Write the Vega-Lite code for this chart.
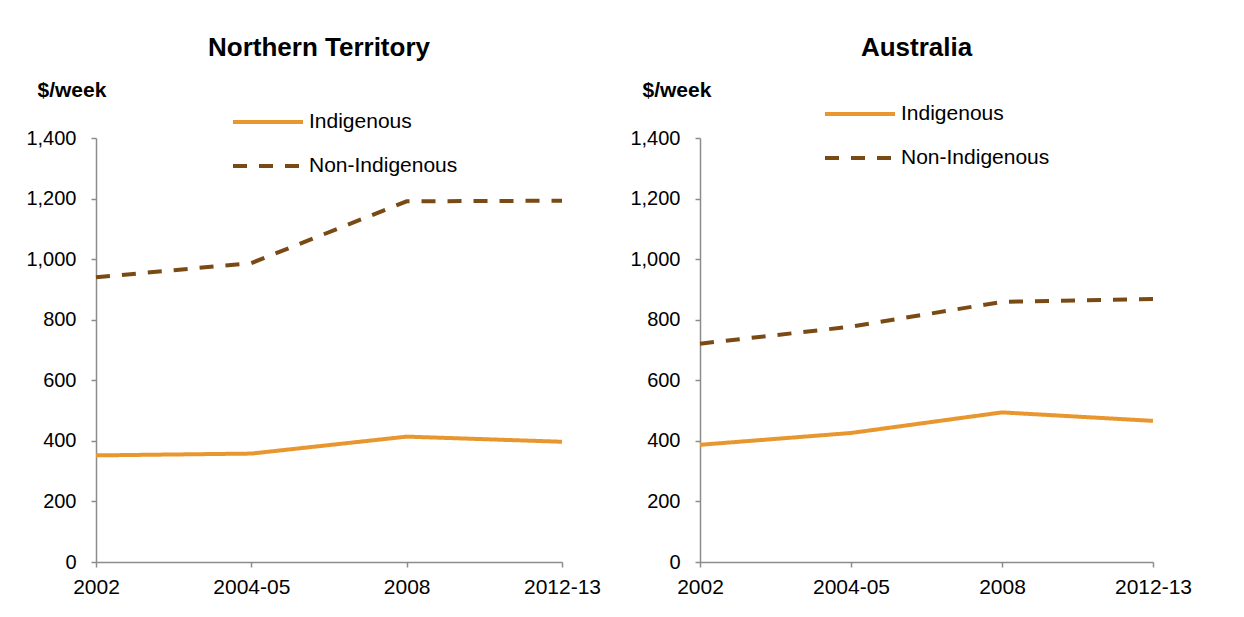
{
  "$schema": "https://vega.github.io/schema/vega-lite/v6.json",
  "padding": {"left": 25, "top": 35, "right": 5, "bottom": 5},
  "bounds": "flush",
  "spacing": 138,
  "background": "white",
  "datasets": {
    "income": [
      {"region": "Northern Territory", "group": "Indigenous", "period": "2002", "value": 352},
      {"region": "Northern Territory", "group": "Indigenous", "period": "2004-05", "value": 358},
      {"region": "Northern Territory", "group": "Indigenous", "period": "2008", "value": 414},
      {"region": "Northern Territory", "group": "Indigenous", "period": "2012-13", "value": 397},
      {"region": "Northern Territory", "group": "Non-Indigenous", "period": "2002", "value": 940},
      {"region": "Northern Territory", "group": "Non-Indigenous", "period": "2004-05", "value": 987},
      {"region": "Northern Territory", "group": "Non-Indigenous", "period": "2008", "value": 1191},
      {"region": "Northern Territory", "group": "Non-Indigenous", "period": "2012-13", "value": 1193},
      {"region": "Australia", "group": "Indigenous", "period": "2002", "value": 387},
      {"region": "Australia", "group": "Indigenous", "period": "2004-05", "value": 426},
      {"region": "Australia", "group": "Indigenous", "period": "2008", "value": 494},
      {"region": "Australia", "group": "Indigenous", "period": "2012-13", "value": 466},
      {"region": "Australia", "group": "Non-Indigenous", "period": "2002", "value": 721},
      {"region": "Australia", "group": "Non-Indigenous", "period": "2004-05", "value": 777},
      {"region": "Australia", "group": "Non-Indigenous", "period": "2008", "value": 859},
      {"region": "Australia", "group": "Non-Indigenous", "period": "2012-13", "value": 868}
    ]
  },
  "config": {
    "font": "Liberation Sans",
    "view": {"stroke": null},
    "axis": {
      "domainColor": "#8c8c8c",
      "tickColor": "#8c8c8c",
      "domainWidth": 1.5,
      "tickWidth": 1.5,
      "tickSize": 5,
      "grid": false,
      "labelColor": "black",
      "labelFont": "Liberation Sans",
      "labelFontSize": 20
    },
    "legend": {
      "symbolType": "stroke",
      "symbolSize": 4900,
      "symbolStrokeWidth": 4,
      "labelFont": "Liberation Sans",
      "labelFontSize": 21,
      "labelColor": "black",
      "clipHeight": 24,
      "rowPadding": 20,
      "labelOffset": 4,
      "padding": 0,
      "symbolOffset": 0
    },
    "title": {"font": "Liberation Sans", "fontSize": 26, "fontWeight": "bold", "color": "black", "offset": 18}
  },
  "resolve": {"scale": {"color": "independent", "strokeDash": "independent"}},
  "hconcat": [
    {
      "width": 466,
      "height": 424,
      "title": {"text": "Northern Territory", "dx": -10},
      "data": {"name": "income"},
      "transform": [{"filter": "datum.region === 'Northern Territory'"}],
      "mark": {"type": "line", "strokeWidth": 4},
      "encoding": {
        "x": {"field": "period", "type": "ordinal", "scale": {"type": "point", "padding": 0, "domain": ["2002", "2004-05", "2008", "2012-13"]}, "axis": {"title": null, "labelAngle": 0, "labelPadding": 9, "labelFontSize": 21}},
        "y": {"field": "value", "type": "quantitative", "scale": {"domain": [0, 1400]}, "axis": {"values": [0, 200, 400, 600, 800, 1000, 1200, 1400], "format": ",d", "title": "$/week", "titleAngle": 0, "titleAlign": "left", "titleBaseline": "alphabetic", "titleX": -59, "titleY": -42, "titleFontSize": 21, "titleFontWeight": "bold", "titleColor": "black", "labelPadding": 15}},
        "color": {"field": "group", "type": "nominal", "scale": {"domain": ["Indigenous", "Non-Indigenous"], "range": ["#E8962E", "#7A4A14"]}, "legend": {"title": null, "orient": "none", "legendX": 135, "legendY": -28}},
        "strokeDash": {"field": "group", "type": "nominal", "scale": {"domain": ["Indigenous", "Non-Indigenous"], "range": [[1, 0], [14, 12]]}, "legend": {"title": null, "orient": "none", "legendX": 135, "legendY": -28}}
      }
    },
    {
      "width": 453,
      "height": 424,
      "title": {"text": "Australia", "dx": -10},
      "data": {"name": "income"},
      "transform": [{"filter": "datum.region === 'Australia'"}],
      "mark": {"type": "line", "strokeWidth": 4},
      "encoding": {
        "x": {"field": "period", "type": "ordinal", "scale": {"type": "point", "padding": 0, "domain": ["2002", "2004-05", "2008", "2012-13"]}, "axis": {"title": null, "labelAngle": 0, "labelPadding": 9, "labelFontSize": 21}},
        "y": {"field": "value", "type": "quantitative", "scale": {"domain": [0, 1400]}, "axis": {"values": [0, 200, 400, 600, 800, 1000, 1200, 1400], "format": ",d", "title": "$/week", "titleAngle": 0, "titleAlign": "left", "titleBaseline": "alphabetic", "titleX": -58, "titleY": -42, "titleFontSize": 21, "titleFontWeight": "bold", "titleColor": "black", "labelPadding": 15}},
        "color": {"field": "group", "type": "nominal", "scale": {"domain": ["Indigenous", "Non-Indigenous"], "range": ["#E8962E", "#7A4A14"]}, "legend": {"title": null, "orient": "none", "legendX": 123, "legendY": -36}},
        "strokeDash": {"field": "group", "type": "nominal", "scale": {"domain": ["Indigenous", "Non-Indigenous"], "range": [[1, 0], [14, 12]]}, "legend": {"title": null, "orient": "none", "legendX": 123, "legendY": -36}}
      }
    }
  ]
}
